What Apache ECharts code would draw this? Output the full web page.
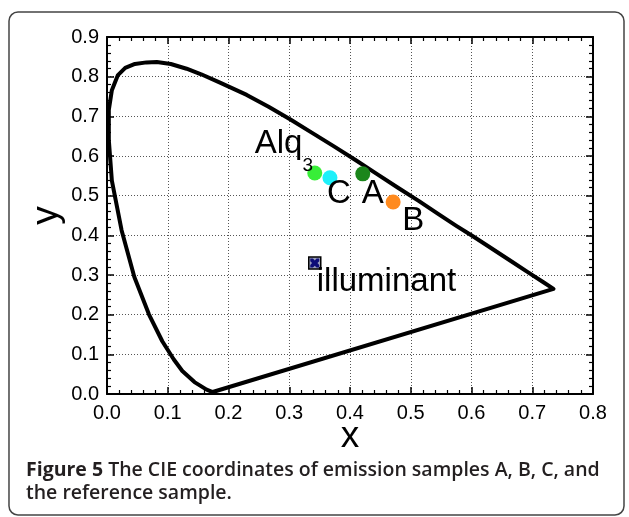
<!DOCTYPE html>
<html>
<head>
<meta charset="utf-8">
<style>
html,body{margin:0;padding:0;background:#fff;}
#chart{width:629px;height:517px;}
</style>
<script src="https://cdn.jsdelivr.net/npm/echarts@6/dist/echarts.min.js"></script>
</head>
<body>
<div id="chart"></div>
<script>
// Spectral locus outline (x, y chromaticity), closed by the line of purples
const locusX = [0.174,0.164,0.144,0.124,0.110,0.091,0.069,0.045,0.024,0.008,0.003,0.003,0.008,0.018,0.030,0.046,0.065,0.082,0.105,0.131,0.155,0.186,0.230,0.266,0.302,0.337,0.373,0.409,0.444,0.479,0.513,0.545,0.575,0.603,0.627,0.666,0.692,0.719,0.735,0.174];
const locusY = [0.005,0.011,0.030,0.058,0.087,0.133,0.201,0.295,0.413,0.538,0.640,0.716,0.766,0.804,0.822,0.832,0.836,0.837,0.832,0.820,0.806,0.785,0.754,0.724,0.692,0.659,0.625,0.590,0.555,0.520,0.487,0.454,0.424,0.397,0.373,0.334,0.308,0.281,0.265,0.005];

// Samples
const sampleNames = ['Alq3','C','A','B'];
const sampleX = [0.342,0.367,0.421,0.471];
const sampleY = [0.557,0.545,0.555,0.484];
const sampleColors = ['#38ee38','#1ef0fa','#1b861b','#ff8a1e'];

// Reference illuminant
const illumName = 'illuminant';
const illumX = [0.342];
const illumY = [0.330];

const xTicks = ['0.0','0.1','0.2','0.3','0.4','0.5','0.6','0.7','0.8'];
const yTicks = ['0.0','0.1','0.2','0.3','0.4','0.5','0.6','0.7','0.8','0.9'];

// label offsets (pixels) relative to marker centre
const sampleLabelOffsets = [[-60,-46],[-3,16],[-1,20],[9,19]];

const chart = echarts.init(document.getElementById('chart'));
const FONT = '"Liberation Sans", Arial, Helvetica, sans-serif';
const CAPFONT = '"Open Sans", "Noto Sans", sans-serif';
const LBL = 33;

const locusData = locusX.map((x,i)=>[x, locusY[i]]);

const sampleSeries = sampleNames.map((name,i)=>({
  type:'scatter',
  name:name,
  data:[[sampleX[i], sampleY[i]]],
  symbol:'circle',
  symbolSize:15,
  itemStyle:{color:sampleColors[i],opacity:1},
  z:5,
  label:{
    show:true,
    position:'inside',
    align:'left',
    verticalAlign: name==='Alq3' ? 'top' : 'middle',
    offset:sampleLabelOffsets[i],
    formatter: name==='Alq3' ? '{m|Alq}{s|3}' : name,
    color:'#000',
    textBorderWidth:0,
    fontFamily:FONT,
    fontSize:LBL,
    rich:{
      m:{fontFamily:FONT,fontSize:LBL,lineHeight:34,verticalAlign:'top',color:'#000',textBorderWidth:0},
      s:{fontFamily:FONT,fontSize:19,lineHeight:19,padding:[29,0,0,0],verticalAlign:'top',color:'#000',textBorderWidth:0}
    }
  }
}));

const axisCommon = {
  type:'value',
  axisLine:{show:true,onZero:false,lineStyle:{color:'#000',width:2}},
  axisTick:{show:true,inside:true,length:7,lineStyle:{color:'#000',width:1.5}},
  minorTick:{show:true,splitNumber:5,length:4,lineStyle:{color:'#000',width:1.2}},
};

chart.setOption({
  animation:false,
  backgroundColor:'#fff',
  grid:{left:107,top:37,right:36,bottom:123,containLabel:false},
  xAxis:[
    Object.assign({}, axisCommon, {
      min:0,max:0.8,interval:0.1,position:'bottom',
      name:'x',nameLocation:'middle',nameGap:24,nameMoveOverlap:false,
      nameTextStyle:{fontFamily:FONT,fontSize:37,color:'#000'},
      axisLabel:{show:true,margin:9,fontFamily:FONT,fontSize:20,color:'#000',
        formatter:(v)=>xTicks[Math.round(v*10)]},
      splitLine:{show:true,lineStyle:{color:'#555',width:1,type:[1,2]}}
    }),
    Object.assign({}, axisCommon, {
      min:0,max:0.8,interval:0.1,position:'top',
      axisLabel:{show:false},splitLine:{show:false}
    })
  ],
  yAxis:[
    Object.assign({}, axisCommon, {
      min:0,max:0.9,interval:0.1,position:'left',
      name:'y',nameLocation:'middle',nameGap:42,nameRotate:90,nameMoveOverlap:false,
      nameTextStyle:{fontFamily:FONT,fontSize:37,color:'#000'},
      axisLabel:{show:true,margin:8,fontFamily:FONT,fontSize:20,color:'#000',
        formatter:(v)=>yTicks[Math.round(v*10)]},
      splitLine:{show:true,lineStyle:{color:'#555',width:1,type:[1,2]}}
    }),
    Object.assign({}, axisCommon, {
      min:0,max:0.9,interval:0.1,position:'right',
      axisLabel:{show:false},splitLine:{show:false}
    })
  ],
  series:[
    {
      type:'line',
      data:locusData,
      showSymbol:false,
      symbol:'none',
      lineStyle:{color:'#000',width:4,join:'round',cap:'round'},
      z:3
    },
    ...sampleSeries,
    {
      type:'scatter',
      name:illumName,
      data:illumX.map((x,i)=>[x, illumY[i]]),
      symbol:'rect',
      symbolSize:12,
      itemStyle:{color:'#9ca0bc',borderColor:'#000',borderWidth:1.5,opacity:1},
      z:5,
      label:{
        show:true,position:'inside',align:'left',verticalAlign:'middle',
        offset:[2,19],formatter:illumName,color:'#000',textBorderWidth:0,
        fontFamily:FONT,fontSize:LBL
      }
    },
    {
      type:'scatter',
      data:illumX.map((x,i)=>[x, illumY[i]]),
      symbol:'path://M0,0 L3,0 L5,2 L7,0 L10,0 L10,3 L8,5 L10,7 L10,10 L7,10 L5,8 L3,10 L0,10 L0,7 L2,5 L0,3 Z',
      symbolSize:9,
      itemStyle:{color:'#0d0d78',opacity:1},
      z:6,
      silent:true
    }
  ],
  graphic:[
    {
      type:'rect',
      shape:{x:9,y:12,width:615,height:503,r:9},
      style:{fill:'none',stroke:'#444',lineWidth:1.5},
      silent:true,
      z:-1
    },
    {
      type:'text',
      style:{
        x:26,y:470.5,verticalAlign:'middle',
        text:'{b|Figure 5} The CIE coordinates of emission samples A, B, C, and',
        font:'600 19.5px "Open Sans", "Noto Sans", sans-serif',
        fill:'#231f20',
        rich:{b:{fontFamily:CAPFONT,fontWeight:700,fontSize:19.5,fill:'#231f20'}}
      }
    },
    {
      type:'text',
      style:{
        x:26,y:493,verticalAlign:'middle',
        text:'the reference sample.',
        font:'600 19.5px "Open Sans", "Noto Sans", sans-serif',
        fill:'#231f20'
      }
    }
  ]
});
</script>
</body>
</html>
